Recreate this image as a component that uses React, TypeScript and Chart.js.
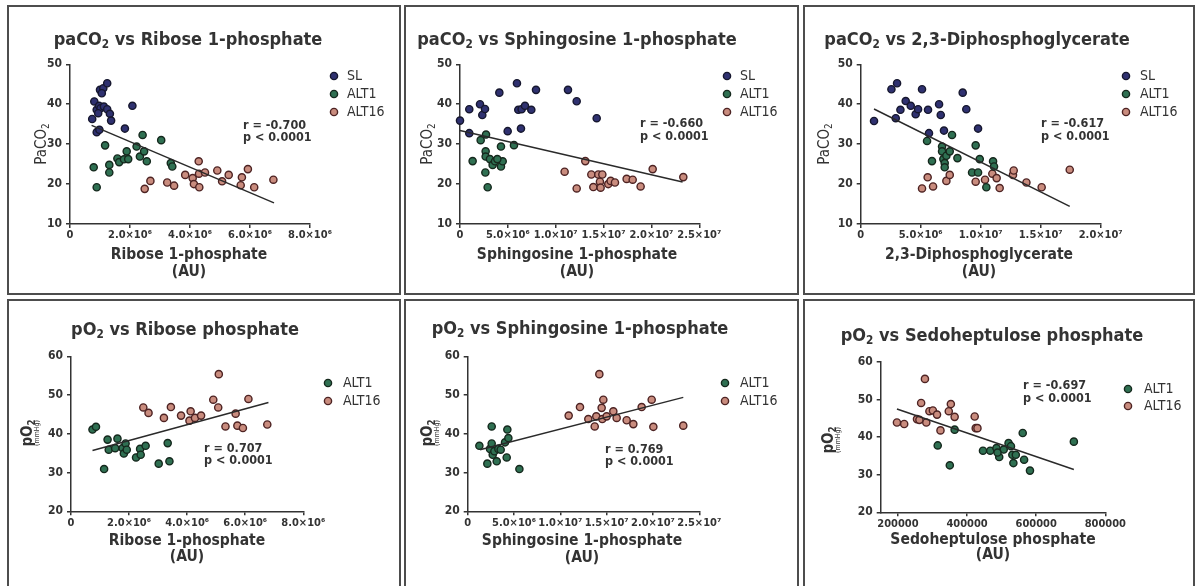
import React, { useEffect, useRef } from 'react';
import { Chart, registerables } from 'chart.js';
Chart.register(...registerables);

const FONT = '"Liberation Sans Narrow", "DejaVu Sans Condensed", "Liberation Sans", Arial, sans-serif';
const INK = '#333333';

// ---------- data ----------
// Panel 1: paCO2 vs Ribose 1-phosphate
const p1SL = [[0.74e6,36.3],[0.81e6,40.7],[0.89e6,38.6],[0.97e6,39.6],[1.02e6,39.0],[1.0e6,43.6],[1.11e6,44.0],[1.06e6,42.75],[1.24e6,45.25],[1.13e6,39.4],[1.24e6,38.75],[1.33e6,37.6],[1.37e6,35.9],[0.89e6,33.0],[0.98e6,33.6],[1.83e6,33.9],[2.08e6,39.6],[0.94e6,37.75]];
const p1ALT1 = [[0.79e6,24.2],[0.89e6,19.2],[1.17e6,29.7],[1.31e6,24.8],[1.31e6,22.9],[1.58e6,26.4],[1.64e6,25.5],[1.8e6,26.2],[1.89e6,28.2],[1.94e6,26.25],[2.22e6,29.4],[2.33e6,26.9],[2.42e6,32.3],[2.47e6,28.2],[2.56e6,25.7],[3.04e6,31.0],[3.36e6,25.25],[3.41e6,24.4]];
const p1ALT16 = [[2.49e6,18.8],[2.68e6,20.8],[3.24e6,20.4],[3.47e6,19.6],[3.84e6,22.3],[4.09e6,21.5],[4.13e6,20.0],[4.29e6,25.7],[4.3e6,22.6],[4.31e6,19.2],[4.5e6,22.9],[4.91e6,23.4],[5.07e6,20.7],[5.29e6,22.3],[5.73e6,21.7],[5.93e6,23.75],[5.69e6,19.7],[6.14e6,19.2],[6.78e6,21.1]];
const fit1X = [0.72e6, 6.8e6];
const fit1Y = [34.7, 15.3];

// Panel 2: paCO2 vs Sphingosine 1-phosphate
const p2SL = [[0,35.9],[0.97e6,38.75],[0.97e6,32.75],[2.09e6,40],[2.33e6,37.3],[2.61e6,38.8],[4.11e6,42.9],[4.98e6,33.25],[5.95e6,45.25],[6.09e6,38.6],[6.37e6,33.9],[6.44e6,38.75],[6.79e6,39.6],[7.45e6,38.6],[7.94e6,43.6],[11.28e6,43.6],[12.19e6,40.75],[14.28e6,36.5]];
const p2ALT1 = [[1.32e6,25.75],[2.16e6,31],[2.72e6,32.4],[2.68e6,28.2],[2.68e6,26.9],[2.89e6,19.2],[2.65e6,22.9],[3.13e6,26.25],[3.41e6,24.8],[3.66e6,25.7],[4.28e6,29.4],[4.28e6,24.4],[4.46e6,25.7],[5.64e6,29.75],[3.9e6,26.25]];
const p2ALT16 = [[10.93e6,23.1],[12.19e6,18.9],[13.09e6,25.75],[13.72e6,22.4],[13.93e6,19.25],[14.45e6,22.4],[14.62e6,20.6],[14.69e6,19.1],[14.87e6,22.4],[15.49e6,20],[15.74e6,20.8],[16.19e6,20.4],[17.41e6,21.3],[18.04e6,21.1],[18.87e6,19.4],[20.13e6,23.75],[23.33e6,21.75]];
const fit2X = [0, 23.26e6];
const fit2Y = [33.4, 20.5];

// Panel 3: paCO2 vs 2,3-Diphosphoglycerate
const p3SL = [[1.11e6,35.8],[2.56e6,43.75],[3.03e6,45.25],[2.92e6,36.5],[3.31e6,38.6],[3.75e6,40.8],[4.17e6,39.6],[4.58e6,37.5],[4.78e6,38.75],[5.11e6,43.75],[5.61e6,38.6],[5.69e6,32.75],[6.53e6,40],[6.67e6,37.3],[6.94e6,33.4],[8.5e6,42.9],[8.8e6,38.75],[9.78e6,33.9]];
const p3ALT1 = [[5.53e6,30.8],[5.94e6,25.75],[6.78e6,29.4],[6.78e6,28.2],[6.89e6,26.25],[7.0e6,25.25],[7.0e6,24.2],[7.14e6,27.1],[7.42e6,28.2],[7.61e6,32.3],[8.06e6,26.5],[9.28e6,22.9],[9.58e6,29.7],[9.92e6,26.25],[9.78e6,22.9],[10.47e6,19.2],[11.03e6,25.7],[11.11e6,24.4]];
const p3ALT16 = [[5.11e6,18.9],[5.58e6,21.7],[6.03e6,19.4],[7.14e6,20.8],[7.42e6,22.3],[9.58e6,20.6],[10.36e6,21.1],[10.97e6,22.6],[11.33e6,21.5],[11.58e6,19],[12.69e6,22.3],[12.75e6,23.4],[13.81e6,20.4],[15.08e6,19.2],[17.42e6,23.6]];
const fit3X = [1.11e6, 17.42e6];
const fit3Y = [38.8, 14.4];

// Panel 4: pO2 vs Ribose phosphate
const p4ALT1 = [[0.74e6,41.1],[0.86e6,41.8],[1.14e6,30.9],[1.26e6,38.5],[1.3e6,35.9],[1.6e6,38.75],[1.52e6,36.3],[1.78e6,36.3],[1.82e6,34.9],[1.88e6,37.5],[1.92e6,35.9],[2.24e6,33.9],[2.38e6,36.1],[2.4e6,34.6],[2.57e6,36.9],[3.02e6,32.3],[3.33e6,37.6],[3.39e6,32.9]];
const p4ALT16 = [[2.49e6,46.8],[2.67e6,45.4],[3.2e6,44.1],[3.44e6,46.9],[3.79e6,44.7],[4.12e6,45.8],[4.08e6,43.4],[4.27e6,44.1],[4.48e6,44.7],[4.9e6,48.8],[5.07e6,46.8],[5.09e6,55.4],[5.32e6,41.9],[5.67e6,45.2],[5.73e6,42.1],[5.92e6,41.5],[6.11e6,49.0],[6.76e6,42.4]];
const fit4X = [0.74e6, 6.8e6];
const fit4Y = [35.7, 48.1];

// Panel 5: pO2 vs Sphingosine 1-phosphate
const p5ALT1 = [[1.26e6,36.9],[2.12e6,32.3],[2.41e6,36.1],[2.59e6,41.9],[2.59e6,37.5],[2.7e6,34.6],[2.88e6,35.5],[3.13e6,32.9],[3.31e6,36.1],[3.56e6,35.9],[4.03e6,37.8],[4.21e6,33.9],[4.28e6,41.1],[4.39e6,38.9],[5.58e6,30.9]];
const p5ALT16 = [[10.9e6,44.7],[12.12e6,46.9],[13.02e6,43.8],[13.88e6,44.5],[13.71e6,41.9],[14.21e6,55.4],[14.46e6,46.7],[14.64e6,48.8],[14.53e6,43.8],[15.0e6,44.5],[15.72e6,45.8],[16.08e6,44.1],[17.16e6,43.5],[17.88e6,42.5],[18.78e6,46.9],[19.86e6,48.8],[20.04e6,41.8],[23.27e6,42.1]];
const fit5X = [1.33e6, 23.27e6];
const fit5Y = [35.9, 49.4];

// Panel 6: pO2 vs Sedoheptulose phosphate
const p6ALT1 = [[315000,37.8],[350000,32.5],[364000,42],[446000,36.4],[467000,36.4],[485000,37.1],[493000,34.7],[506000,36.7],[520000,38.4],[527000,37.6],[531000,35.3],[534000,33.1],[541000,35.3],[561000,41.1],[565000,34],[582000,31.1],[709000,38.8],[488000,35.9]];
const p6ALT16 = [[197000,43.9],[218000,43.5],[255000,44.8],[267000,49.1],[278000,55.5],[282000,43.9],[291000,46.9],[301000,47.1],[313000,46],[323000,41.8],[347000,46.9],[353000,48.8],[364000,45.4],[422000,45.5],[425000,42.4],[430000,42.4],[262000,44.6]];
const fit6X = [197000, 709000];
const fit6Y = [47.5, 31.4];

// tick labels / ranges
const ticksRibose = [0, 2e6, 4e6, 6e6, 8e6];
const ticksSphingo = [0, 5e6, 1e7, 1.5e7, 2e7, 2.5e7];
const ticksDPG = [0, 5e6, 1e7, 1.5e7, 2e7];
const ticksSedo = [200000, 400000, 600000, 800000];
const ticksCO2 = [10, 20, 30, 40, 50];
const ticksO2 = [20, 30, 40, 50, 60];

const FILL: Record<string, string> = { SL: '#2f3170', ALT1: '#2f7052', ALT16: '#c98c7e' };
const EDGE: Record<string, string> = { SL: '#16172e', ALT1: '#15281d', ALT16: '#4d2323' };

// ---------- layout (page coordinates) ----------
type Spec = {
  box: { left: number; top: number; w: number; h: number };
  area: { l: number; r: number; t: number; b: number };
  xMin: number; xMax: number; yMin: number; yMax: number;
  xTicks: number[]; yTicks: number[]; sci: boolean;
  series: { name: string; pts: number[][] }[];
  fitX: number[]; fitY: number[];
  title: string[]; titlePos: [number, number];
  xTitle: string; xTitlePos: [number, number, number];
  yTitle: string[]; yTitlePos: [number, number]; yUnit?: [number];
  legendPos: { mx: number; tx: number; ys: number[] };
  stat: string[]; statPos: [number, number, number];
};

const SPECS: Spec[] = [
  {
    box: { left: 7, top: 5, w: 394, h: 290 },
    area: { l: 70, r: 310, t: 64.3, b: 224 },
    xMin: 0, xMax: 8e6, yMin: 10, yMax: 50, xTicks: ticksRibose, yTicks: ticksCO2, sci: true,
    series: [{ name: 'SL', pts: p1SL }, { name: 'ALT1', pts: p1ALT1 }, { name: 'ALT16', pts: p1ALT16 }],
    fitX: fit1X, fitY: fit1Y,
    title: ['paCO', '2', ' vs Ribose 1-phosphate'], titlePos: [188, 40],
    xTitle: 'Ribose 1-phosphate', xTitlePos: [189, 255, 272],
    yTitle: ['PaCO', '2'], yTitlePos: [42, 144],
    legendPos: { mx: 334, tx: 347, ys: [76, 94, 112] },
    stat: ['r = -0.700', 'p < 0.0001'], statPos: [243, 126, 138],
  },
  {
    box: { left: 404, top: 5, w: 395, h: 290 },
    area: { l: 460, r: 699.3, t: 64.3, b: 224 },
    xMin: 0, xMax: 2.5e7, yMin: 10, yMax: 50, xTicks: ticksSphingo, yTicks: ticksCO2, sci: true,
    series: [{ name: 'SL', pts: p2SL }, { name: 'ALT1', pts: p2ALT1 }, { name: 'ALT16', pts: p2ALT16 }],
    fitX: fit2X, fitY: fit2Y,
    title: ['paCO', '2', ' vs Sphingosine 1-phosphate'], titlePos: [577, 40],
    xTitle: 'Sphingosine 1-phosphate', xTitlePos: [577, 255, 272],
    yTitle: ['PaCO', '2'], yTitlePos: [428, 144],
    legendPos: { mx: 727, tx: 740, ys: [76, 94, 112] },
    stat: ['r = -0.660', 'p < 0.0001'], statPos: [640, 124, 137],
  },
  {
    box: { left: 803, top: 5, w: 392, h: 290 },
    area: { l: 860.7, r: 1100.7, t: 64.3, b: 224 },
    xMin: 0, xMax: 2e7, yMin: 10, yMax: 50, xTicks: ticksDPG, yTicks: ticksCO2, sci: true,
    series: [{ name: 'SL', pts: p3SL }, { name: 'ALT1', pts: p3ALT1 }, { name: 'ALT16', pts: p3ALT16 }],
    fitX: fit3X, fitY: fit3Y,
    title: ['paCO', '2', ' vs 2,3-Diphosphoglycerate'], titlePos: [977, 40],
    xTitle: '2,3-Diphosphoglycerate', xTitlePos: [979, 255, 272],
    yTitle: ['PaCO', '2'], yTitlePos: [825, 144],
    legendPos: { mx: 1126, tx: 1140, ys: [76, 94, 112] },
    stat: ['r = -0.617', 'p < 0.0001'], statPos: [1041, 124, 137],
  },
  {
    box: { left: 7, top: 299, w: 394, h: 300 },
    area: { l: 71, r: 303.3, t: 356.3, b: 511.3 },
    xMin: 0, xMax: 8e6, yMin: 20, yMax: 60, xTicks: ticksRibose, yTicks: ticksO2, sci: true,
    series: [{ name: 'ALT1', pts: p4ALT1 }, { name: 'ALT16', pts: p4ALT16 }],
    fitX: fit4X, fitY: fit4Y,
    title: ['pO', '2', ' vs Ribose phosphate'], titlePos: [185, 330],
    xTitle: 'Ribose 1-phosphate', xTitlePos: [187, 541, 557],
    yTitle: ['pO', '2'], yTitlePos: [28, 433], yUnit: [37],
    legendPos: { mx: 328, tx: 343, ys: [383, 401] },
    stat: ['r = 0.707', 'p < 0.0001'], statPos: [204, 449, 461],
  },
  {
    box: { left: 404, top: 299, w: 395, h: 300 },
    area: { l: 467.7, r: 699.3, t: 356.3, b: 511.3 },
    xMin: 0, xMax: 2.5e7, yMin: 20, yMax: 60, xTicks: ticksSphingo, yTicks: ticksO2, sci: true,
    series: [{ name: 'ALT1', pts: p5ALT1 }, { name: 'ALT16', pts: p5ALT16 }],
    fitX: fit5X, fitY: fit5Y,
    title: ['pO', '2', ' vs Sphingosine 1-phosphate'], titlePos: [580, 329],
    xTitle: 'Sphingosine 1-phosphate', xTitlePos: [582, 541, 558],
    yTitle: ['pO', '2'], yTitlePos: [428, 433], yUnit: [437],
    legendPos: { mx: 725, tx: 740, ys: [383, 401] },
    stat: ['r = 0.769', 'p < 0.0001'], statPos: [605, 450, 462],
  },
  {
    box: { left: 803, top: 299, w: 392, h: 300 },
    area: { l: 880.7, r: 1105.3, t: 362, b: 512.3 },
    xMin: 150000, xMax: 800000, yMin: 20, yMax: 60, xTicks: ticksSedo, yTicks: ticksO2, sci: false,
    series: [{ name: 'ALT1', pts: p6ALT1 }, { name: 'ALT16', pts: p6ALT16 }],
    fitX: fit6X, fitY: fit6Y,
    title: ['pO', '2', ' vs Sedoheptulose phosphate'], titlePos: [992, 336],
    xTitle: 'Sedoheptulose phosphate', xTitlePos: [993, 540, 555],
    yTitle: ['pO', '2'], yTitlePos: [829, 440], yUnit: [838],
    legendPos: { mx: 1128, tx: 1144, ys: [389, 406] },
    stat: ['r = -0.697', 'p < 0.0001'], statPos: [1023, 386, 399],
  },
];

const SUP: Record<string, string> = { '0': '⁰', '1': '¹', '2': '²', '3': '³', '4': '⁴', '5': '⁵', '6': '⁶', '7': '⁷', '8': '⁸', '9': '⁹' };
function sciLabel(v: number): string {
  if (v === 0) return '0';
  const e = Math.floor(Math.log10(v) + 1e-9);
  const m = v / Math.pow(10, e);
  return m.toFixed(1) + '×10' + String(e).split('').map((c) => SUP[c]).join('');
}

function fnt(weight: string, size: number) {
  return `${weight} ${size}px ${FONT}`;
}

// parts: even index = normal text, odd index = subscript
function drawRich(ctx: CanvasRenderingContext2D, parts: string[], x: number, y: number, size: number, weight: string, align: 'center' | 'left') {
  const widths = parts.map((p, i) => {
    ctx.font = fnt(weight, i % 2 ? size * 0.65 : size);
    return ctx.measureText(p).width;
  });
  const total = widths.reduce((a, b) => a + b, 0);
  let cx = align === 'center' ? x - total / 2 : x;
  ctx.textAlign = 'left';
  ctx.textBaseline = 'middle';
  parts.forEach((p, i) => {
    ctx.font = fnt(weight, i % 2 ? size * 0.65 : size);
    ctx.fillText(p, cx, i % 2 ? y + size * 0.3 : y);
    cx += widths[i];
  });
}

function drawDot(ctx: CanvasRenderingContext2D, x: number, y: number, name: string) {
  ctx.beginPath();
  ctx.arc(x, y, 3.6, 0, Math.PI * 2);
  ctx.fillStyle = FILL[name];
  ctx.fill();
  ctx.lineWidth = 1.4;
  ctx.strokeStyle = EDGE[name];
  ctx.stroke();
}

function Panel({ spec }: { spec: Spec }) {
  const ref = useRef<HTMLCanvasElement>(null);
  const ox = spec.box.left + 2;
  const oy = spec.box.top + 2;
  const cw = spec.box.w - 4;
  const ch = spec.box.h - 4;

  useEffect(() => {
    const canvas = ref.current;
    if (!canvas) return;
    const YW = 40;
    const XH = 24;
    const a = spec.area;
    const datasets: any[] = spec.series.map((s) => ({
      label: s.name,
      data: s.pts.map(([x, y]) => ({ x, y })),
      backgroundColor: FILL[s.name],
      borderColor: EDGE[s.name],
      borderWidth: 1.4,
      pointRadius: 3.6,
      showLine: false,
      clip: false,
    }));
    datasets.unshift({
      label: 'fit',
      data: spec.fitX.map((x, i) => ({ x, y: spec.fitY[i] })),
      showLine: true,
      borderColor: '#2a2a2a',
      borderWidth: 1.5,
      pointRadius: 0,
      clip: false,
    });

    const decor = {
      id: 'decor',
      afterDraw(chart: any) {
        const ctx: CanvasRenderingContext2D = chart.ctx;
        ctx.save();
        ctx.fillStyle = INK;
        // title
        drawRich(ctx, spec.title, spec.titlePos[0] - ox, spec.titlePos[1] - oy, 18, 'bold', 'center');
        // x title
        ctx.fillStyle = INK;
        ctx.font = fnt('bold', 15.5);
        ctx.textAlign = 'center';
        ctx.textBaseline = 'middle';
        ctx.fillText(spec.xTitle, spec.xTitlePos[0] - ox, spec.xTitlePos[1] - oy);
        ctx.fillText('(AU)', spec.xTitlePos[0] - ox, spec.xTitlePos[2] - oy);
        // y title
        ctx.save();
        ctx.translate(spec.yTitlePos[0] - ox, spec.yTitlePos[1] - oy);
        ctx.rotate(-Math.PI / 2);
        drawRich(ctx, spec.yTitle, 0, 0, 15, spec.yUnit ? 'bold' : 'normal', 'center');
        ctx.restore();
        if (spec.yUnit) {
          ctx.save();
          ctx.translate(spec.yUnit[0] - ox, spec.yTitlePos[1] - oy);
          ctx.rotate(-Math.PI / 2);
          ctx.font = fnt('normal', 7);
          ctx.textAlign = 'center';
          ctx.textBaseline = 'middle';
          ctx.fillText('(mmHg)', 0, 0);
          ctx.restore();
        }
        // legend
        spec.series.forEach((s, i) => {
          const y = spec.legendPos.ys[i] - oy;
          drawDot(ctx, spec.legendPos.mx - ox, y, s.name);
          ctx.fillStyle = INK;
          ctx.font = fnt('normal', 14);
          ctx.textAlign = 'left';
          ctx.textBaseline = 'middle';
          ctx.fillText(s.name, spec.legendPos.tx - ox, y);
        });
        // statistics
        ctx.fillStyle = INK;
        ctx.font = fnt('bold', 12.5);
        ctx.textAlign = 'left';
        ctx.textBaseline = 'middle';
        ctx.fillText(spec.stat[0], spec.statPos[0] - ox, spec.statPos[1] - oy);
        ctx.fillText(spec.stat[1], spec.statPos[0] - ox, spec.statPos[2] - oy);
        ctx.restore();
      },
    };

    const axisGrid = { display: true, drawOnChartArea: false, drawTicks: true, tickLength: 4, color: INK, lineWidth: 1.5 };
    const chart = new Chart(canvas, {
      type: 'scatter',
      data: { datasets },
      options: {
        animation: false,
        responsive: false,
        maintainAspectRatio: false,
        devicePixelRatio: 1,
        events: [],
        layout: {
          padding: {
            left: a.l - ox - YW,
            right: cw - (a.r - ox),
            top: a.t - oy,
            bottom: ch - (a.b - oy) - XH,
          },
        },
        plugins: { legend: { display: false }, title: { display: false }, tooltip: { enabled: false } },
        scales: {
          x: {
            type: 'linear',
            min: spec.xMin,
            max: spec.xMax,
            afterFit: (s: any) => { s.height = XH; },
            afterBuildTicks: (s: any) => { s.ticks = spec.xTicks.map((v) => ({ value: v })); },
            grid: axisGrid,
            border: { color: INK, width: 1.5 },
            ticks: {
              autoSkip: false,
              maxRotation: 0,
              padding: 1,
              color: INK,
              font: { family: FONT, size: 11, weight: 'bold' },
              callback: (v: any) => (spec.sci ? sciLabel(Number(v)) : String(v)),
            },
          },
          y: {
            type: 'linear',
            min: spec.yMin,
            max: spec.yMax,
            afterFit: (s: any) => { s.width = YW; },
            afterBuildTicks: (s: any) => { s.ticks = spec.yTicks.map((v) => ({ value: v })); },
            grid: axisGrid,
            border: { color: INK, width: 1.5 },
            ticks: {
              autoSkip: false,
              padding: 4,
              color: INK,
              font: { family: FONT, size: 12, weight: 'bold' },
              callback: (v: any) => String(v),
            },
          },
        },
      },
      plugins: [decor],
    } as any);
    return () => chart.destroy();
  }, [spec]);

  return (
    <div
      style={{
        position: 'absolute',
        left: spec.box.left,
        top: spec.box.top,
        width: spec.box.w,
        height: spec.box.h,
        boxSizing: 'border-box',
        border: '2px solid #4d4d4d',
        background: '#ffffff',
      }}
    >
      <canvas ref={ref} width={cw} height={ch} style={{ display: 'block', width: cw, height: ch }} />
    </div>
  );
}

export default function App() {
  return (
    <div style={{ position: 'absolute', left: 0, top: 0, width: 1196, height: 586, overflow: 'hidden', background: '#ffffff' }}>
      {SPECS.map((s, i) => (
        <Panel key={i} spec={s} />
      ))}
    </div>
  );
}
